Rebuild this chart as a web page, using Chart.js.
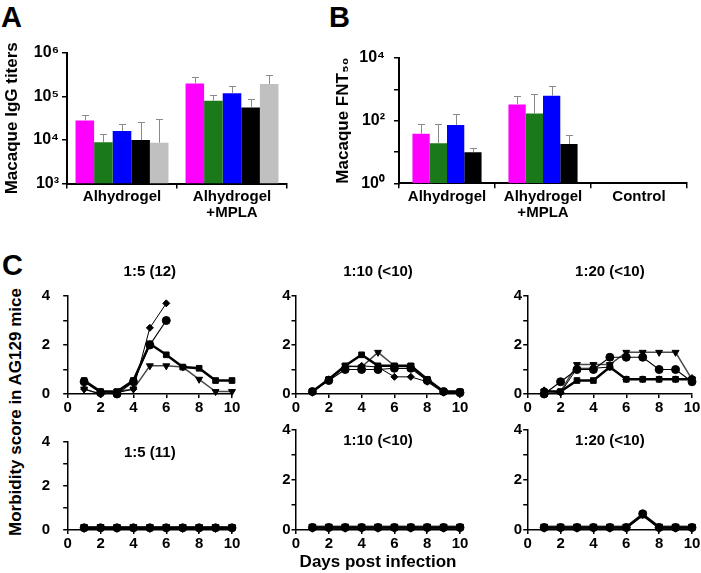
<!DOCTYPE html>
<html>
<head>
<meta charset="utf-8">
<script src="https://cdn.jsdelivr.net/npm/chart.js@4.4.1/dist/chart.umd.min.js"></script>
<style>
  body { margin: 0; background: #fff; }
  #wrap { position: relative; width: 701px; height: 573px; overflow: hidden;
          font-family: 'Liberation Sans', Arial, sans-serif; font-weight: bold; color: #000; }
  #wrap canvas { position: absolute; }
  .letter { position: absolute; font-size: 29px; line-height: 28px; }
  #ytitleC { position: absolute; left: -134px; top: 402px; width: 300px; height: 20px;
             line-height: 20px; font-size: 17px; text-align: center; transform: rotate(-90deg); }
</style>
</head>
<body>
<div id="wrap">
  <div class="letter" style="left:1px;top:3px">A</div>
  <div class="letter" style="left:329px;top:3px">B</div>
  <div class="letter" style="left:2px;top:251px">C</div>
  <div id="ytitleC">Morbidity score in AG129 mice</div>

  <canvas id="chartA" width="300" height="232" style="left:0;top:0"></canvas>
  <canvas id="chartB" width="381" height="232" style="left:320px;top:0"></canvas>

  <canvas id="c1" width="212" height="170" style="left:32px;top:250px"></canvas>
  <canvas id="c2" width="212" height="170" style="left:260px;top:250px"></canvas>
  <canvas id="c3" width="212" height="170" style="left:492px;top:250px"></canvas>
  <canvas id="c4" width="212" height="153" style="left:32px;top:420px"></canvas>
  <canvas id="c5" width="212" height="153" style="left:260px;top:420px"></canvas>
  <canvas id="c6" width="212" height="153" style="left:492px;top:420px"></canvas>
</div>

<script>
// ---- A: macaque IgG titers (one array per animal, mean + upper error) ----
const groupsA = [['Alhydrogel'], ['Alhydrogel', '+MPLA']];
const igg1 = [28000, 200000];
const igg2 = [8900, 80000];
const igg3 = [16000, 118000];
const igg4 = [10000, 56000];
const igg5 = [8700, 195000];
const iggErr1 = [9000, 80000];
const iggErr2 = [5100, 28000];
const iggErr3 = [7000, 52000];
const iggErr4 = [16000, 32000];
const iggErr5 = [22300, 125000];
const ticksA = [1e3, 1e4, 1e5, 1e6];
const tickLabelsA = ['10³', '10⁴', '10⁵', '10⁶'];

// ---- B: macaque FNT50 ----
const groupsB = [['Alhydrogel'], ['Alhydrogel', '+MPLA'], ['Control']];
const fnt1 = [38, 330, null];
const fnt2 = [19, 169, null];
const fnt3 = [72, 620, null];
const fnt4 = [9.8, 18, null];
const fntErr1 = [40, 275, null];
const fntErr2 = [60, 538, null];
const fntErr3 = [97, 620, null];
const fntErr4 = [3.2, 18, null];
const ticksB = [1, 10, 100, 1000, 10000];
const tickLabelsB = ['10⁰', '', '10²', '', '10⁴'];

const barColors = ['#ff00ff', '#1a7a1a', '#0000ff', '#000000', '#c0c0c0'];

// ---- C: morbidity scores, days 1-10 ----
const days = [1, 2, 3, 4, 5, 6, 7, 8, 9, 10];
const scoreTicks = [0, 1, 2, 3, 4];
// 1:5 (12)
const p1Square   = [0.55, 0.1, 0.1, 0.55, 2.05, 1.6, 1.1, 1.05, 0.55, 0.55];
const p1Circle   = [0.5, 0.05, 0.0, 0.5, 2.0, 3.0, null, null, null, null];
const p1Diamond  = [0.2, 0.0, 0.05, 0.2, 2.7, 3.7, null, null, null, null];
const p1Triangle = [0.2, 0.0, 0.1, 0.2, 1.15, 1.15, 1.1, 0.6, 0.1, 0.1];
// 1:10 (<10)
const p2Square   = [0.1, 0.6, 1.15, 1.6, 1.15, 1.15, 1.15, 0.6, 0.1, 0.1];
const p2Circle   = [0.1, 0.55, 1.0, 1.0, 1.0, 1.05, 1.05, 0.55, 0.1, 0.05];
const p2Diamond  = [0.05, 0.6, 1.1, 1.15, 1.1, 0.7, 0.7, 0.5, 0.05, 0.1];
const p2Triangle = [0.1, 0.6, 1.15, 1.1, 1.7, 1.15, 1.15, 0.6, 0.1, 0.1];
// 1:20 (<10)
const p3Square   = [0.1, 0.1, 0.55, 0.55, 1.1, 0.6, 0.6, 0.6, 0.6, 0.6];
const p3Circle   = [0.0, 0.5, 1.0, 1.0, 1.5, 1.5, 1.5, 1.0, 1.0, 0.5];
const p3Diamond  = [0.15, 0.05, 1.05, 1.05, 1.1, 0.6, 0.6, 0.6, 0.6, 0.65];
const p3Triangle = [0.1, 0.1, 1.2, 1.2, 1.2, 1.7, 1.7, 1.7, 1.7, 0.6];
// 1:5 (11)
const p4Square   = [0.1, 0.1, 0.1, 0.1, 0.1, 0.1, 0.1, 0.1, 0.1, 0.1];
const p4Circle   = [0.1, 0.1, 0.1, 0.1, 0.1, 0.1, 0.1, 0.1, 0.1, 0.1];
const p4Diamond  = [0.05, 0.05, 0.05, 0.05, 0.05, 0.05, 0.05, 0.05, 0.05, 0.05];
const p4Triangle = [0.15, 0.15, 0.15, 0.15, 0.15, 0.15, 0.15, 0.15, 0.15, 0.15];
// 1:10 (<10)
const p5Square   = [0.1, 0.1, 0.1, 0.1, 0.1, 0.1, 0.1, 0.1, 0.1, 0.1];
const p5Circle   = [0.1, 0.1, 0.1, 0.1, 0.1, 0.1, 0.1, 0.1, 0.1, 0.1];
const p5Diamond  = [0.05, 0.05, 0.05, 0.05, 0.05, 0.05, 0.05, 0.05, 0.05, 0.05];
const p5Triangle = [0.15, 0.15, 0.15, 0.15, 0.15, 0.15, 0.15, 0.15, 0.15, 0.15];
// 1:20 (<10)
const p6Square   = [0.1, 0.1, 0.1, 0.1, 0.1, 0.1, 0.6, 0.1, 0.1, 0.1];
const p6Circle   = [0.1, 0.1, 0.1, 0.1, 0.1, 0.1, 0.65, 0.1, 0.1, 0.1];
const p6Diamond  = [0.05, 0.05, 0.05, 0.05, 0.05, 0.05, 0.6, 0.05, 0.05, 0.05];
const p6Triangle = [0.15, 0.15, 0.15, 0.15, 0.15, 0.15, 0.65, 0.15, 0.15, 0.15];

const FONT = "'Liberation Sans', Arial, sans-serif";
Chart.defaults.font.family = FONT;
Chart.defaults.font.weight = 'bold';
Chart.defaults.color = '#000';

// upper error bars with a cap, drawn from each bar's value
const errorBars = {
    id: 'errorBars',
    afterDatasetsDraw(chart) {
        const { ctx } = chart;
        const y = chart.scales.y;
        ctx.save();
        ctx.strokeStyle = '#8a8a8a';
        ctx.lineWidth = 1;
        chart.data.datasets.forEach((ds, i) => {
            chart.getDatasetMeta(i).data.forEach((bar, j) => {
                const v = ds.data[j], e = ds.errors[j];
                if (v == null || e == null) return;
                const top = Math.round(y.getPixelForValue(v + e)) + 0.5;
                const x = Math.round(bar.x) + 0.5;
                ctx.beginPath();
                ctx.moveTo(x, bar.y);
                ctx.lineTo(x, top);
                ctx.moveTo(x - 3.5, top);
                ctx.lineTo(x + 3.5, top);
                ctx.stroke();
            });
        });
        ctx.restore();
    }
};

// small panel heading relative to the plot area
const panelTitle = {
    id: 'panelTitle',
    afterDraw(chart, args, opts) {
        if (!opts.text) return;
        const { ctx, chartArea: a } = chart;
        ctx.save();
        ctx.font = 'bold 15px ' + FONT;
        ctx.fillStyle = '#000';
        ctx.textAlign = 'center';
        ctx.textBaseline = 'middle';
        ctx.fillText(opts.text, (a.left + a.right) / 2, a.top + opts.dy);
        ctx.restore();
    }
};

function barChart(id, cfg) {
    new Chart(document.getElementById(id), {
        type: 'bar',
        data: {
            labels: cfg.labels,
            datasets: cfg.series.map((s, i) => ({
                data: s,
                errors: cfg.errors[i],
                backgroundColor: barColors[i],
                borderWidth: 0,
                barPercentage: 1,
                categoryPercentage: cfg.catPct
            }))
        },
        options: {
            responsive: false,
            animation: false,
            devicePixelRatio: 1,
            layout: { padding: cfg.padding },
            plugins: { legend: { display: false }, tooltip: { enabled: false } },
            scales: {
                x: {
                    grid: { offset: true, drawOnChartArea: false, drawTicks: true, tickLength: 5, color: '#000', lineWidth: 1.5 },
                    border: { color: '#000', width: 2 },
                    ticks: { font: { size: 15, weight: 'bold', lineHeight: 1.1 }, padding: 0, maxRotation: 0, autoSkip: false },
                    afterFit: s => { s.height = cfg.xHeight; }
                },
                y: {
                    type: 'logarithmic',
                    min: cfg.ticks[0],
                    max: cfg.ticks[cfg.ticks.length - 1],
                    grid: { drawOnChartArea: false, drawTicks: true, tickLength: 5, color: '#000', lineWidth: 1.5 },
                    border: { color: '#000', width: 2 },
                    afterBuildTicks: s => { s.ticks = cfg.ticks.map(v => ({ value: v })); },
                    ticks: {
                        font: { size: 16, weight: 'bold' },
                        padding: cfg.tickPad,
                        callback: (v, i) => cfg.tickLabels[i]
                    },
                    title: { display: true, text: cfg.title, font: { size: 17, weight: 'bold' }, padding: { top: cfg.titlePad, bottom: 0 } },
                    afterFit: s => { s.width = cfg.yWidth; }
                }
            }
        },
        plugins: [errorBars]
    });
}

barChart('chartA', {
    labels: groupsA,
    series: [igg1, igg2, igg3, igg4, igg5],
    errors: [iggErr1, iggErr2, iggErr3, iggErr4, iggErr5],
    ticks: ticksA, tickLabels: tickLabelsA,
    title: 'Macaque IgG titers', titlePad: 2,
    padding: { left: 0, top: 53, right: 13, bottom: 0 },
    yWidth: 67, xHeight: 48.5, catPct: 0.845, tickPad: 3
});

barChart('chartB', {
    labels: groupsB,
    series: [fnt1, fnt2, fnt3, fnt4],
    errors: [fntErr1, fntErr2, fntErr3, fntErr4],
    ticks: ticksB, tickLabels: tickLabelsB,
    title: 'Macaque FNT₅₀', titlePad: 13,
    padding: { left: 0, top: 58, right: 14, bottom: 0 },
    yWidth: 79, xHeight: 48.7, catPct: 0.72, tickPad: 9
});

// marker / line style per animal
const lineStyles = [
    { pointStyle: 'rect', rotation: 0, width: 2.5, color: '#000', r: 4 },
    { pointStyle: 'circle', rotation: 0, width: 1.2, color: '#000', r: 4 },
    { pointStyle: 'rectRot', rotation: 0, width: 1, color: '#000', r: 3.5 },
    { pointStyle: 'triangle', rotation: 180, width: 1.5, color: '#4a4a4a', r: 4 }
];

function lineChart(id, cfg) {
    new Chart(document.getElementById(id), {
        type: 'line',
        data: {
            datasets: cfg.series.map((s, i) => ({
                data: days.map((d, k) => ({ x: d, y: s[k] })),
                borderColor: lineStyles[i].color,
                borderWidth: lineStyles[i].width,
                pointStyle: lineStyles[i].pointStyle,
                rotation: lineStyles[i].rotation,
                pointRadius: lineStyles[i].r,
                pointBackgroundColor: '#000',
                pointBorderColor: '#000',
                pointBorderWidth: 1,
                spanGaps: false,
                tension: 0,
                clip: false
            }))
        },
        options: {
            responsive: false,
            animation: false,
            devicePixelRatio: 1,
            layout: { padding: { left: 0, top: cfg.top, right: 12, bottom: 0 } },
            plugins: {
                legend: { display: false },
                tooltip: { enabled: false },
                panelTitle: { text: cfg.title, dy: cfg.titleDy }
            },
            scales: {
                x: {
                    type: 'linear', min: 0, max: 10,
                    grid: { drawOnChartArea: false, drawTicks: true, tickLength: 4, color: '#000', lineWidth: 1.5 },
                    border: { color: '#000', width: 1.5 },
                    ticks: { stepSize: 2, font: { size: 15, weight: 'bold' }, padding: 1, maxRotation: 0 },
                    title: { display: !!cfg.xTitle, text: cfg.xTitle || '', font: { size: 17, weight: 'bold' }, padding: 0 },
                    afterFit: s => { s.height = cfg.xHeight; }
                },
                y: {
                    min: 0, max: 4,
                    grid: { drawOnChartArea: false, drawTicks: true, tickLength: 4.5, color: '#000', lineWidth: 1.5 },
                    border: { color: '#000', width: 1.5 },
                    afterBuildTicks: s => { s.ticks = scoreTicks.map(v => ({ value: v })); },
                    ticks: { font: { size: 15, weight: 'bold' }, padding: cfg.tickPad, callback: v => (v % 2 === 0 ? v : '') },
                    afterFit: s => { s.width = cfg.yWidth; }
                }
            }
        },
        plugins: [panelTitle]
    });
}

lineChart('c1', { series: [p1Square, p1Circle, p1Diamond, p1Triangle], title: '1:5 (12)', titleDy: -24, top: 46, xHeight: 26, yWidth: 35.7, tickPad: 13 });
lineChart('c2', { series: [p2Square, p2Circle, p2Diamond, p2Triangle], title: '1:10 (<10)', titleDy: -24, top: 46, xHeight: 26, yWidth: 36, tickPad: 1 });
lineChart('c3', { series: [p3Square, p3Circle, p3Diamond, p3Triangle], title: '1:20 (<10)', titleDy: -24, top: 46, xHeight: 26, yWidth: 35.7, tickPad: 1 });
lineChart('c4', { series: [p4Square, p4Circle, p4Diamond, p4Triangle], title: '1:5 (11)', titleDy: 11, top: 10, xHeight: 43, yWidth: 35.7, tickPad: 13 });
lineChart('c5', { series: [p5Square, p5Circle, p5Diamond, p5Triangle], title: '1:10 (<10)', titleDy: 11, top: 10, xHeight: 43, yWidth: 36, tickPad: 1, xTitle: 'Days post infection' });
lineChart('c6', { series: [p6Square, p6Circle, p6Diamond, p6Triangle], title: '1:20 (<10)', titleDy: 11, top: 10, xHeight: 43, yWidth: 35.7, tickPad: 1 });
</script>
</body>
</html>
